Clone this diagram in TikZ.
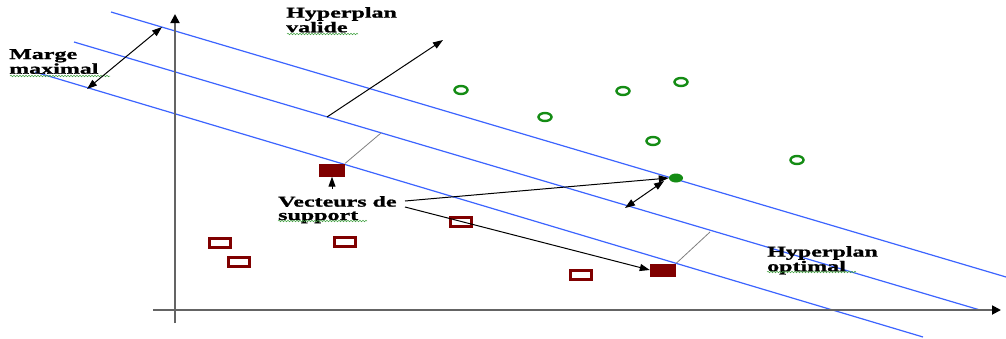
\documentclass[tikz,border=0pt]{standalone}
\usepackage{fontspec}
\usetikzlibrary{arrows.meta,shapes.geometric,decorations.pathmorphing}
\newfontfamily\lblfont{Liberation Serif}[FakeStretch=1.6, BoldFeatures={FakeBold=1.2}]
\definecolor{planblue}{RGB}{60,100,255}
\definecolor{posgreen}{RGB}{20,140,20}
\definecolor{negred}{RGB}{128,0,0}
\definecolor{axisgray}{RGB}{100,100,100}
\tikzset{
  plane/.style={draw=planblue, line width=1.2pt},
  axisline/.style={draw=axisgray, line width=1.8pt, -{Triangle[length=9pt,width=9pt,color=black]}},
  pointer/.style={draw=black, line width=1pt, -{Triangle[length=10pt,width=7pt]}},
  twoway/.style={draw=black, line width=1pt, {Triangle[length=10pt,width=7pt]}-{Triangle[length=10pt,width=7pt]}},
  tie/.style={draw=gray, line width=0.8pt},
  posdot/.style={ellipse, draw=posgreen, line width=2.4pt, minimum width=13pt, minimum height=8pt, inner sep=0pt},
  posfill/.style={ellipse, fill=posgreen, minimum width=14pt, minimum height=9pt, inner sep=0pt},
  negbox/.style={rectangle, draw=negred, line width=2.8pt, minimum width=21pt, minimum height=9.5pt, inner sep=0pt},
  negfill/.style={rectangle, fill=negred, minimum width=26pt, minimum height=13pt, inner sep=0pt},
  caption/.style={anchor=north west, inner sep=0pt, align=left, text=black,
    font=\lblfont\bfseries\fontsize{15}{13.4}\selectfont},
  squiggle/.style={draw=posgreen!80, line width=0.5pt,
    decorate, decoration={snake, segment length=3pt, amplitude=0.8pt}}
}
\begin{document}
\begin{tikzpicture}[x=1pt, y=-1pt]
\useasboundingbox[fill=white] (0,0) rectangle (1006,338);

% margin hyperplanes and the optimal one
\coordinate (t1) at (111,12);   \coordinate (t2) at (1006,277);
\coordinate (m1) at (74,42);    \coordinate (m2) at (980,310);
\coordinate (b1) at (35,72);    \coordinate (b2) at (923,337);
\draw[plane] (t1) -- (t2);
\draw[plane] (m1) -- (m2);
\draw[plane] (b1) -- (b2);

% axes
\coordinate (xa0) at (153,310); \coordinate (xa1) at (1001,310);
\coordinate (ya0) at (175,323); \coordinate (ya1) at (175,14);
\draw[axisline] (xa0) -- (xa1);
\draw[axisline] (ya0) -- (ya1);

% positive class
\node[posdot] (p1) at (461,90) {};
\node[posdot] (p2) at (545,117) {};
\node[posdot] (p3) at (623,91) {};
\node[posdot] (p4) at (681,82) {};
\node[posdot] (p5) at (653,141) {};
\node[posdot] (p6) at (797,160) {};
\node[posfill] (sv3) at (676,178) {};

% negative class
\node[negbox] (n1) at (220,243) {};
\node[negbox] (n2) at (239,262) {};
\node[negbox] (n3) at (345,242) {};
\node[negbox] (n4) at (461,222) {};
\node[negbox] (n5) at (581,275) {};
\node[negfill] (sv1) at (332,170) {};
\node[negfill] (sv2) at (663,270) {};

% labels
\node[caption] (lmarge) at (9,49) {Marge\\maximal};
\node[caption] (lvalide) at (286,7) {Hyperplan\\valide};
\node[caption] (lsupport) at (278,196) {Vecteurs de\\support};
\node[caption] (loptimal) at (767,246) {Hyperplan\\optimal};

% spelling underlines
\coordinate (s1a) at (10,76);   \coordinate (s1b) at (110,76);
\coordinate (s2a) at (287,34);  \coordinate (s2b) at (358,34);
\coordinate (s3a) at (278,221); \coordinate (s3b) at (367,221);
\coordinate (s4a) at (767,272); \coordinate (s4b) at (856,272);
\draw[squiggle] (s1a) -- (s1b);
\draw[squiggle] (s2a) -- (s2b);
\draw[squiggle] (s3a) -- (s3b);
\draw[squiggle] (s4a) -- (s4b);

% maximal margin
\coordinate (mg1) at (162,27);  \coordinate (mg2) at (87,89);
\draw[twoway] (mg2) -- (mg1);

% a valid hyperplane normal
\coordinate (v0) at (327,117);  \coordinate (v1) at (443,40);
\draw[pointer] (v0) -- (v1);

% ties from support vectors to the optimal hyperplane
\coordinate (h1) at (381,133);  \coordinate (h2) at (710,232);
\draw[tie] (sv1.north east) -- (h1);
\draw[tie] (sv2.north east) -- (h2);

% pointers from the support vector label
\coordinate (u0) at (332,189);
\draw[pointer] (u0) -- (sv1.south);
\coordinate (vs1) at (405,201); \coordinate (vs2) at (405,207);
\draw[pointer] (vs1) -- (sv3.west);
\draw[pointer] (vs2) -- (sv2.west);

% half margin
\coordinate (hm0) at (664,181); \coordinate (hm) at (625,208);
\draw[twoway] (hm0) -- (hm);
\end{tikzpicture}
\end{document}
